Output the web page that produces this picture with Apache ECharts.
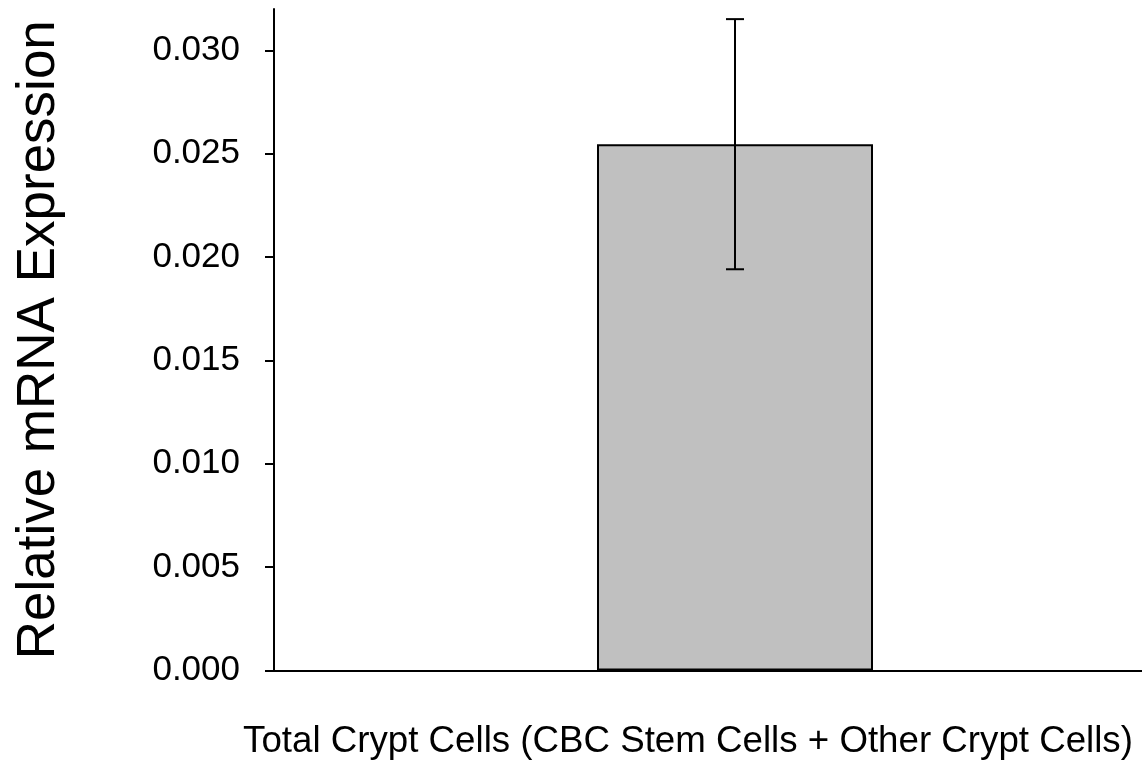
<!DOCTYPE html>
<html><head><meta charset="utf-8">
<script src="https://cdn.jsdelivr.net/npm/echarts@6/dist/echarts.min.js"></script>
<style>html,body{margin:0;padding:0;background:#fff}#c{width:1142px;height:765px}</style>
</head><body><div id="c"></div>
<script>
const categories = ['Total Crypt Cells (CBC Stem Cells + Other Crypt Cells)'];
const values = [0.02546];
const errors = [0.00605];
const yTicks = [0, 0.005, 0.010, 0.015, 0.020, 0.025, 0.030];
const yTitle = 'Relative mRNA Expression';
const FONT = '"Liberation Sans", Arial, sans-serif';

const chart = echarts.init(document.getElementById('c'), null, {renderer: 'canvas'});
chart.setOption({
  animation: false,
  backgroundColor: '#fff',
  grid: {left: 274, width: 922, top: 9, height: 661.5, containLabel: false, outerBoundsMode: 'none'},
  xAxis: {
    type: 'category', data: categories,
    axisLine: {lineStyle: {color: '#000', width: 2}},
    axisTick: {show: false}, axisLabel: {show: false}
  },
  yAxis: {
    type: 'value', min: 0, max: 0.032,
    name: yTitle, nameLocation: 'middle', nameGap: 208,
    nameTextStyle: {fontSize: 53, color: '#000', fontFamily: FONT},
    axisLine: {show: true, lineStyle: {color: '#000', width: 2}},
    axisTick: {show: true, length: 9, lineStyle: {color: '#000', width: 2}, customValues: yTicks},
    axisLabel: {fontSize: 35, color: '#000', fontFamily: FONT, margin: 34, customValues: yTicks,
      formatter: v => v.toFixed(3)},
    splitLine: {show: false}
  },
  graphic: [{
    type: 'text', x: 688, y: 742,
    style: {text: categories[0], font: '36.7px "Liberation Sans", Arial, sans-serif', fill: '#000',
      align: 'center', verticalAlign: 'middle', textAlign: 'center', textVerticalAlign: 'middle'}
  }],
  series: [{
    type: 'bar', data: values, barWidth: 276,
    itemStyle: {color: '#c0c0c0', borderColor: '#000', borderWidth: 2}
  }, {
    type: 'custom', data: values.map((v, i) => [i, v - errors[i], v + errors[i]]),
    renderItem: function (params, api) {
      const x = api.value(0);
      const lo = api.coord([x, api.value(1)]);
      const hi = api.coord([x, api.value(2)]);
      const w = 9;
      const st = {stroke: '#000', lineWidth: 2};
      return {type: 'group', children: [
        {type: 'line', shape: {x1: lo[0], y1: lo[1], x2: hi[0], y2: hi[1]}, style: st},
        {type: 'line', shape: {x1: lo[0] - w, y1: lo[1], x2: lo[0] + w, y2: lo[1]}, style: st},
        {type: 'line', shape: {x1: hi[0] - w, y1: hi[1], x2: hi[0] + w, y2: hi[1]}, style: st}
      ]};
    },
    z: 10
  }]
});
</script></body></html>
